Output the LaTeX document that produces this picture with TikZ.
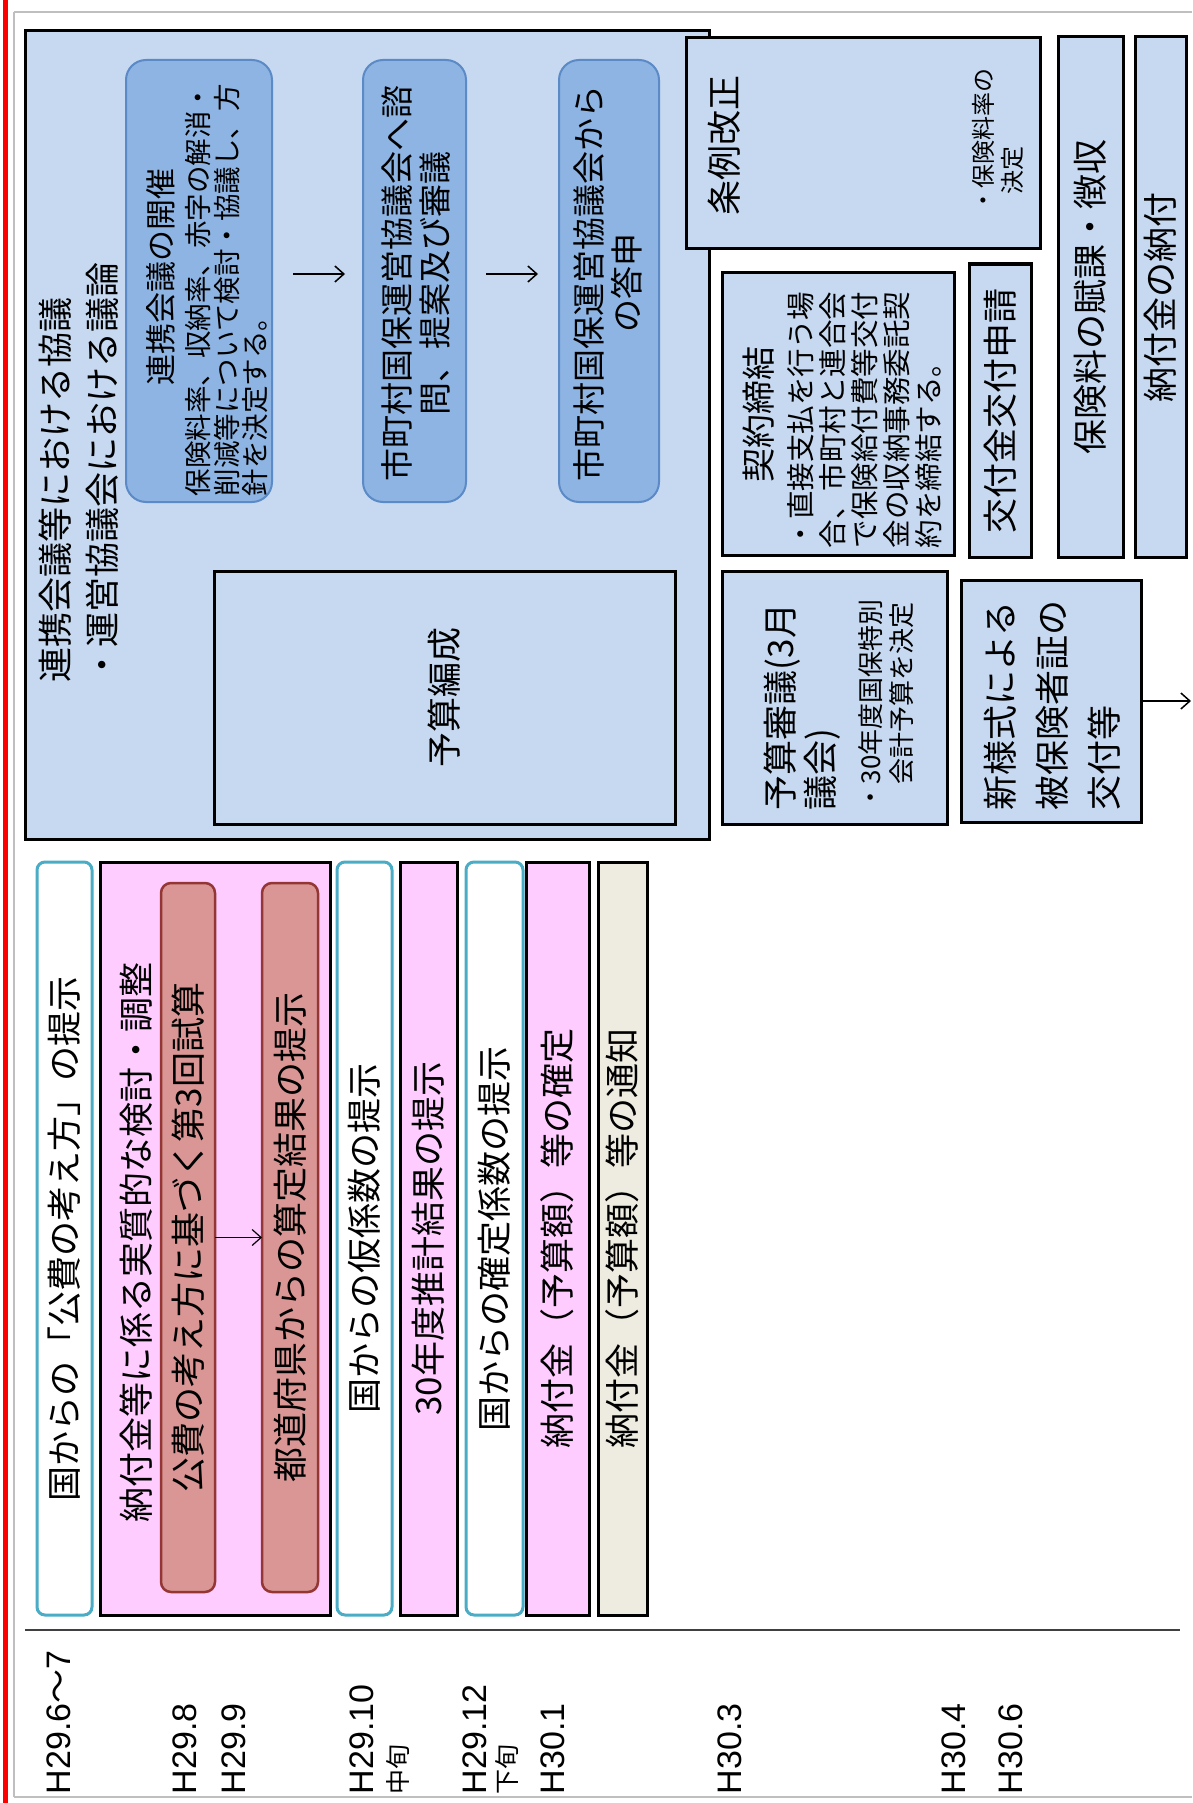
\documentclass[tikz,border=0pt]{standalone}
\usepackage{fontspec}
\setmainfont{Liberation Sans}
\newfontfamily\jpf{Noto Sans CJK JP}
\usetikzlibrary{arrows.meta}
\definecolor{boxblue}{HTML}{C6D9F1}
\definecolor{midblue}{HTML}{8DB4E2}
\definecolor{midblueline}{HTML}{5B8AC6}
\definecolor{pinkfill}{HTML}{FFCCFF}
\definecolor{redfill}{HTML}{D99694}
\definecolor{redline}{HTML}{943634}
\definecolor{tealline}{HTML}{4BACC6}
\definecolor{beigefill}{HTML}{EEECE1}
\definecolor{framegray}{HTML}{BFBFBF}
\newcommand\fsz[2]{\fontsize{#1}{#2}\selectfont}
\begin{document}
\begin{tikzpicture}[x=1pt,y=-1pt,
  every node/.style={inner sep=0pt, outer sep=0pt},
  rbox/.style={rotate=90, rectangle, line width=3pt},
  bluebox/.style={rbox, draw=black, fill=boxblue},
  roundblue/.style={rbox, draw=midblueline, line width=2pt, fill=midblue, rounded corners=20pt},
  tealcol/.style={rbox, draw=tealline, fill=white, rounded corners=8pt},
  pinkcol/.style={rbox, draw=black, fill=pinkfill},
  beigecol/.style={rbox, draw=black, fill=beigefill},
  redin/.style={rbox, draw=redline, fill=redfill, rounded corners=10pt, line width=2.5pt},
  tx/.style={rotate=90, text=black},
  big/.style={font=\jpf\fsz{35}{40}},
  arr/.style={-{Straight Barb[length=9pt,width=16pt]}, line width=1.5pt}
]
\useasboundingbox (0,0) rectangle (1192,1803);
\fill[white] (0,0) rectangle (1192,1803);
% frame
\draw[framegray, line width=2pt] (14,12) -- (1192,12);
\draw[framegray, line width=2pt] (14,1797) -- (1192,1797);
\draw[framegray, line width=2pt] (14,12) -- (14,1797);
\draw[red, line width=5pt] (5,0) -- (5,1803);

% big box A
\node[bluebox, minimum width=808pt, minimum height=684pt] (a) at (367,435) {};
\node[tx, anchor=west, align=left, font=\jpf\fsz{35}{47}] (atitle) at (79,682)
  {連携会議等における協議\\・運営協議会における議論};
\node[roundblue, minimum width=442pt, minimum height=146pt] (r1) at (199,281) {};
\node[tx, font=\jpf\fsz{31}{37}] (r1h) at (161,277) {連携会議の開催};
\node[tx, anchor=west, align=left, font=\jpf\fsz{27.5}{28.5}] (r1b) at (227,496)
  {保険料率、収納率、赤字の解消・\\削減等について検討・協議し、方\\針を決定する。};
\node[roundblue, minimum width=442pt, minimum height=103pt] (r2) at (414.5,281) {};
\node[tx, align=center, font=\jpf\fsz{33}{38}] (r2t) at (416,283)
  {市町村国保運営協議会へ諮\\問、提案及び審議};
\node[roundblue, minimum width=442pt, minimum height=100pt] (r3) at (609,281) {};
\node[tx, align=center, font=\jpf\fsz{33}{38}] (r3t) at (608,283)
  {市町村国保運営協議会から\\の答申};
\draw[arr, shorten <=21pt, shorten >=18pt] ([yshift=7pt]r1.south) -- ([yshift=7pt]r2.north);
\draw[arr, shorten <=20pt, shorten >=21pt] ([yshift=7pt]r2.south) -- ([yshift=7pt]r3.north);
\node[bluebox, minimum width=253pt, minimum height=461pt, big] (y) at (444.5,697.5) {予算編成};

% right column
\node[bluebox, minimum width=211pt, minimum height=354pt] (j) at (863,143.5) {};
\node[tx, big] (jt) at (724,146) {条例改正};
\node[tx, anchor=west, align=left, font=\jpf\fsz{24}{29}] (jb) at (997.5,213)
  {・保険料率の\\\hspace{0.75em}決定};
\node[bluebox, minimum width=283pt, minimum height=232pt] (k) at (838,413.5) {};
\node[tx, font=\jpf\fsz{34}{40}] (kt) at (759,414) {契約締結};
\node[tx, anchor=west, align=left, font=\jpf\fsz{28.5}{32}] (kb) at (865,548)
  {・直接支払を行う場\\合、市町村と連合会\\で保険給付費等交付\\金の収納事務委託契\\約を締結する。};
\node[bluebox, minimum width=293pt, minimum height=62pt, big] (l) at (1000,410.5) {交付金交付申請};
\node[bluebox, minimum width=520pt, minimum height=65pt, big] (m) at (1090.5,297) {保険料の賦課・徴収};
\node[bluebox, minimum width=520pt, minimum height=51pt, big] (n) at (1160.5,297) {納付金の納付};
\node[bluebox, minimum width=253pt, minimum height=225pt] (p) at (834.5,697.5) {};
\node[tx, anchor=west, align=left, font=\jpf\fsz{35}{40}] (pt) at (802,810)
  {予算審議(3月\\議会)};
\node[tx, anchor=west, align=left, font=\jpf\fsz{26}{31}] (pb) at (886.5,810)
  {・30年度国保特別\\\hspace{1em}会計予算を決定};
\node[bluebox, minimum width=242pt, minimum height=180pt] (q) at (1051,701) {};
\node[tx, anchor=west, align=left, font=\jpf\fsz{35}{52}] (qt) at (1052,810)
  {新様式による\\被保険者証の\\交付等};
\coordinate (qend) at (1191,701);
\draw[arr] (q.south) -- (qend);

% bottom columns
\node[tealcol, minimum width=753pt, minimum height=55pt, big] (c1) at (64.5,1238.5) {国からの「公費の考え方」の提示};
\node[pinkcol, minimum width=753pt, minimum height=230pt] (c2) at (215,1238.5) {};
\node[tx, big] (c2t) at (136,1242) {納付金等に係る実質的な検討・調整};
\node[redin, minimum width=709pt, minimum height=54pt, big] (c2a) at (188,1237.5) {公費の考え方に基づく第3回試算};
\node[redin, minimum width=709pt, minimum height=56pt, big] (c2b) at (290,1237.5) {都道府県からの算定結果の提示};
\draw[arr, line width=1.2pt] (c2a.south) -- (c2b.north);
\node[tealcol, minimum width=753pt, minimum height=55pt, big] (c3) at (364.5,1238.5) {国からの仮係数の提示};
\node[pinkcol, minimum width=753pt, minimum height=57pt, big] (c4) at (428.5,1238.5) {30年度推計結果の提示};
\node[tealcol, minimum width=753pt, minimum height=57pt, big] (c5) at (494.5,1238.5) {国からの確定係数の提示};
\node[pinkcol, minimum width=753pt, minimum height=63pt, big] (c6) at (557.5,1238.5) {納付金（予算額）等の確定};
\node[beigecol, minimum width=753pt, minimum height=49pt, big] (c7) at (622.5,1238.5) {納付金（予算額）等の通知};

% time axis
\coordinate (ax1) at (25,1630);
\coordinate (ax2) at (1180,1630);
\draw[black!75, line width=2pt] (ax1) -- (ax2);
\begin{scope}[every node/.append style={tx, anchor=west, font=\fsz{34}{40}}]
\node (d1) at (59,1794) {H29.6{\jpf ～}7};
\node (d2) at (185,1794) {H29.8};
\node (d3) at (234,1794) {H29.9};
\node (d4) at (362,1794) {H29.10};
\node[font=\jpf\fsz{25}{28}] (d4b) at (398,1794) {中旬};
\node (d5) at (475,1794) {H29.12};
\node[font=\jpf\fsz{25}{28}] (d5b) at (507,1794) {下旬};
\node (d6) at (553,1794) {H30.1};
\node (d7) at (730,1794) {H30.3};
\node (d8) at (954,1794) {H30.4};
\node (d9) at (1011,1794) {H30.6};
\end{scope}
\end{tikzpicture}
\end{document}
